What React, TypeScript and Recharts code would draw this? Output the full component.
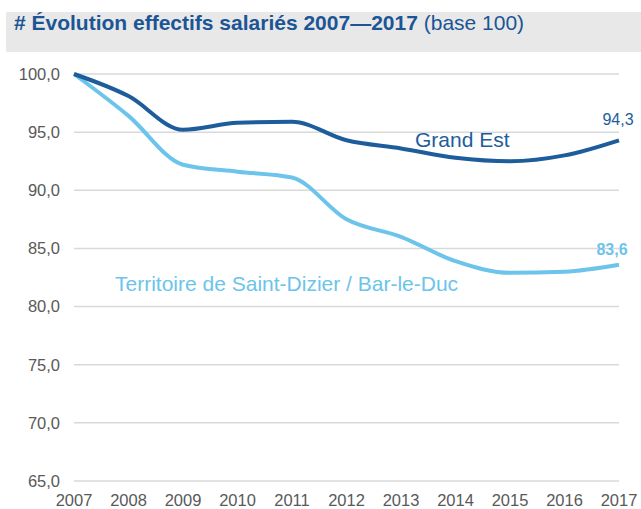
import React from 'react';
import { LineChart, Line, XAxis, YAxis, CartesianGrid } from 'recharts';

const years = [2007, 2008, 2009, 2010, 2011, 2012, 2013, 2014, 2015, 2016, 2017];
const grandEst = [100, 98.1, 95.2, 95.8, 95.9, 94.3, 93.6, 92.8, 92.5, 93.0, 94.3];
const territoire = [100, 96.4, 92.2, 91.6, 91.1, 87.5, 86.0, 83.9, 82.9, 83.0, 83.6];
const yTicks = [65, 70, 75, 80, 85, 90, 95, 100];

const DARK = '#1d5d9b';
const LIGHT = '#6cc4ea';
const FONT = 'Arial, "Liberation Sans", sans-serif';

const data = years.map((year, i) => ({ year, grandEst: grandEst[i], territoire: territoire[i] }));

const fmt = (v: number) => v.toFixed(1).replace('.', ',');

export default function App() {
  const last = years.length - 1;
  return (
    <div style={{ position: 'absolute', left: 0, top: 0, width: 641, height: 509, background: '#fff', fontFamily: FONT, overflow: 'hidden' }}>
      <div style={{ position: 'absolute', left: 6, top: 12, width: 635, height: 40, background: '#e8e8e8' }} />
      <div style={{ position: 'absolute', left: 14, top: 11, fontSize: 21, color: '#1b5596', whiteSpace: 'nowrap' }}>
        <span style={{ fontWeight: 'bold' }}># Évolution effectifs salariés 2007—2017</span> (base 100)
      </div>
      <div style={{ position: 'absolute', left: 0, top: 0 }}>
        <LineChart width={641} height={509} data={data} margin={{ top: 74, right: 22, left: 14, bottom: 0 }}>
          <CartesianGrid vertical={false} stroke="#d9d9d9" strokeWidth={1.5} />
          <XAxis
            dataKey="year"
            type="number"
            domain={[2007, 2017]}
            ticks={years}
            height={28}
            axisLine={false}
            tickLine={false}
            tickSize={0}
            tickMargin={13}
            interval={0}
            tick={{ fill: '#595959', fontSize: 16.5, fontFamily: FONT }}
          />
          <YAxis
            domain={[65, 100]}
            ticks={yTicks}
            width={60}
            axisLine={false}
            tickLine={false}
            tickSize={0}
            tickMargin={14}
            tickFormatter={fmt}
            tick={{ fill: '#595959', fontSize: 16.5, fontFamily: FONT }}
          />
          <Line
            type="monotone"
            dataKey="territoire"
            stroke={LIGHT}
            strokeWidth={4}
            dot={false}
            isAnimationActive={false}
            label={(p: any) =>
              p.index === last ? (
                <text key="lt" x={p.x - 7} y={p.y - 10} textAnchor="middle" fill={LIGHT} fontSize={16} fontWeight="bold" fontFamily={FONT}>
                  {fmt(p.value)}
                </text>
              ) : null
            }
          />
          <Line
            type="monotone"
            dataKey="grandEst"
            stroke={DARK}
            strokeWidth={4}
            dot={false}
            isAnimationActive={false}
            label={(p: any) =>
              p.index === last ? (
                <text key="gt" x={p.x - 1} y={p.y - 15} textAnchor="middle" fill={DARK} fontSize={16} fontFamily={FONT}>
                  {fmt(p.value)}
                </text>
              ) : null
            }
          />
        </LineChart>
      </div>
      <div style={{ position: 'absolute', left: 415, top: 128, fontSize: 21, color: DARK, whiteSpace: 'nowrap' }}>Grand Est</div>
      <div style={{ position: 'absolute', left: 115, top: 272, fontSize: 21, color: LIGHT, whiteSpace: 'nowrap' }}>
        Territoire de Saint-Dizier / Bar-le-Duc
      </div>
    </div>
  );
}
